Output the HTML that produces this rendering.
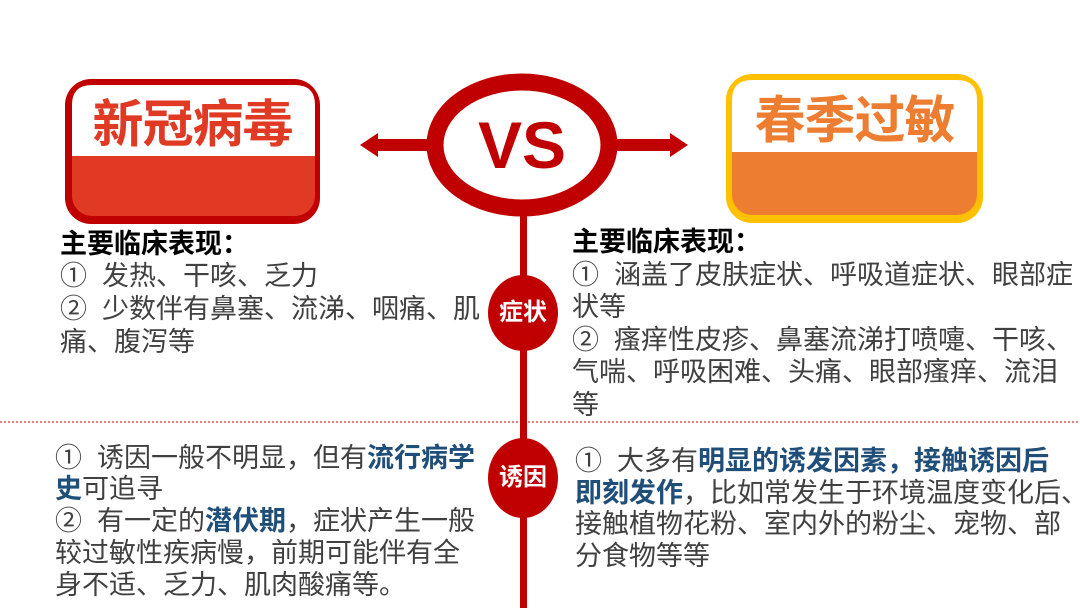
<!DOCTYPE html>
<html><head><meta charset="utf-8">
<style>
*{margin:0;padding:0}
body{width:1080px;height:608px;background:#fff;position:relative;overflow:hidden;font-family:"Liberation Sans","Noto Sans CJK SC",sans-serif;}
.t{position:absolute;font-size:27px;line-height:32.5px;color:#404040;white-space:nowrap;}
.h{color:#000;font-weight:bold;}
b{color:#1F4E79;}
.lbl{position:absolute;color:#fff;font-weight:bold;font-size:24px;text-align:center;}
</style></head><body>
<svg width="1080" height="608" style="position:absolute;left:0;top:0">
  <line x1="0" y1="422" x2="1080" y2="422" stroke="#C00000" stroke-width="1" stroke-dasharray="2,2"/>
  <rect x="520" y="200" width="7" height="408" fill="#C00000"/>
  <rect x="65" y="79" width="255" height="145" rx="26" fill="#C00000"/>
  <rect x="72" y="85" width="243" height="131" rx="20" fill="#E03A25"/>
  <path d="M92 85 H295 Q315 85 315 105 V156 H72 V105 Q72 85 92 85Z" fill="#fff"/>
  <rect x="726" y="74" width="257" height="149" rx="26" fill="#FFC000"/>
  <rect x="732" y="80" width="245" height="135" rx="20" fill="#ED7D31"/>
  <path d="M752 80 H957 Q977 80 977 100 V152 H732 V100 Q732 80 752 80Z" fill="#fff"/>
  <rect x="375" y="139" width="60" height="12" fill="#C00000"/>
  <polygon points="360,145 378,133 378,157" fill="#C00000"/>
  <rect x="610" y="139" width="63" height="12" fill="#C00000"/>
  <polygon points="688,145 670,133 670,157" fill="#C00000"/>
  <ellipse cx="522" cy="145" rx="87" ry="63" fill="#fff" stroke="#C00000" stroke-width="17"/>
  <text x="522" y="168" text-anchor="middle" font-family="Liberation Sans,sans-serif" font-weight="bold" font-size="66" fill="#C00000">VS</text>
  <ellipse cx="523" cy="313" rx="35" ry="38" fill="#C00000"/>
  <ellipse cx="523" cy="478" rx="35" ry="40" fill="#C00000"/>
</svg>
<div style="position:absolute;left:65px;top:94px;width:255px;text-align:center;font-size:51px;font-weight:bold;color:#E03A25;line-height:62px;letter-spacing:-1px">新冠病毒</div>
<div style="position:absolute;left:726px;top:90px;width:257px;text-align:center;font-size:51px;font-weight:bold;color:#ED7D31;line-height:62px;letter-spacing:-1px">春季过敏</div>
<div class="lbl" style="left:488px;top:297px;width:70px;line-height:32px">症状</div>
<div class="lbl" style="left:488px;top:462px;width:70px;line-height:32px">诱因</div>

<div class="t h" style="left:60px;top:228px">主要临床表现：</div>
<div class="t" style="left:60px;top:260px">①&nbsp; 发热、干咳、乏力</div>
<div class="t" style="left:60px;top:293px">②&nbsp; 少数伴有鼻塞、流涕、咽痛、肌</div>
<div class="t" style="left:60px;top:326px">痛、腹泻等</div>

<div class="t h" style="left:572px;top:226px">主要临床表现：</div>
<div class="t" style="left:572px;top:259px">①&nbsp; 涵盖了皮肤症状、呼吸道症状、眼部症</div>
<div class="t" style="left:572px;top:291px">状等</div>
<div class="t" style="left:572px;top:324px">②&nbsp; 瘙痒性皮疹、鼻塞流涕打喷嚏、干咳、</div>
<div class="t" style="left:572px;top:356px">气喘、呼吸困难、头痛、眼部瘙痒、流泪</div>
<div class="t" style="left:572px;top:389px">等</div>

<div class="t" style="left:55px;top:442px">①&nbsp; 诱因一般不明显，但有<b>流行病学</b></div>
<div class="t" style="left:55px;top:473px"><b>史</b>可追寻</div>
<div class="t" style="left:55px;top:505px">②&nbsp; 有一定的<b>潜伏期</b>，症状产生一般</div>
<div class="t" style="left:55px;top:537px">较过敏性疾病慢，前期可能伴有全</div>
<div class="t" style="left:55px;top:569px">身不适、乏力、肌肉酸痛等。</div>

<div class="t" style="left:575px;top:445px">①&nbsp; 大多有<b>明显的诱发因素，接触诱因后</b></div>
<div class="t" style="left:575px;top:477px"><b>即刻发作</b>，比如常发生于环境温度变化后、</div>
<div class="t" style="left:575px;top:508px">接触植物花粉、室内外的粉尘、宠物、部</div>
<div class="t" style="left:575px;top:540px">分食物等等</div>
</body></html>
